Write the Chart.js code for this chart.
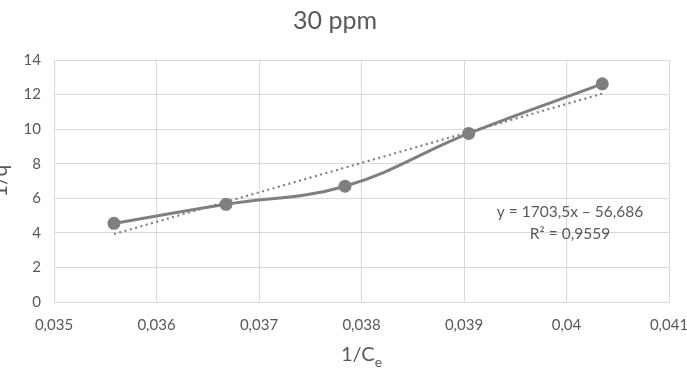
<!DOCTYPE html>
<html><head><meta charset="utf-8">
<script src="https://cdn.jsdelivr.net/npm/chart.js@4"></script>
<style>html,body{margin:0;padding:0;background:#fff}#wrap{width:687px;height:377px}</style>
</head><body><div id="wrap"><canvas id="c" width="687" height="377"></canvas></div>
<script>
const xValues = [0.035585, 0.036678, 0.037839, 0.039046, 0.040349];
const yValues = [4.55, 5.65, 6.70, 9.75, 12.62];
const trendX = [0.035585, 0.040349];
const trendY = [3.93, 12.05];
const chartTitle = "30 ppm";
const yTitle = "1/q";
const equationLines = ["y = 1703,5x \u2013 56,686", "R\u00b2 = 0,9559"];

const FONT = "Lato, 'Liberation Sans', sans-serif";
const TXT = "#595959";
const GRID = "#d9d9d9";
const LINE = "#7f7f7f";

const textPlugin = {
  id: 'texts',
  afterDraw(chart) {
    const ctx = chart.ctx;
    const ca = chart.chartArea;
    ctx.save();
    ctx.fillStyle = TXT;
    ctx.textBaseline = 'middle';
    ctx.font = "25px " + FONT;
    ctx.textAlign = 'center';
    ctx.fillText(chartTitle, 335, 21);
    const main = "1/C";
    ctx.font = "20px " + FONT;
    const w1 = ctx.measureText(main).width;
    ctx.font = "14px " + FONT;
    const w2 = ctx.measureText("e").width;
    const cx = (ca.left + ca.right) / 2;
    const sx = cx - (w1 + w2) / 2;
    ctx.textAlign = 'left';
    ctx.font = "20px " + FONT;
    ctx.fillText(main, sx, 355);
    ctx.font = "14px " + FONT;
    ctx.fillText("e", sx + w1, 362);
    ctx.save();
    ctx.translate(7, 181);
    ctx.rotate(-Math.PI / 2);
    ctx.font = "21px " + FONT;
    ctx.textAlign = 'center';
    ctx.textBaseline = 'alphabetic';
    ctx.fillText(yTitle, 0, 0);
    ctx.restore();
    ctx.font = "15.5px " + FONT;
    ctx.textAlign = 'center';
    ctx.fillText(equationLines[0], 570, 212);
    ctx.fillText(equationLines[1], 570, 234);
    ctx.restore();
  }
};

new Chart(document.getElementById('c'), {
  type: 'scatter',
  data: {
    datasets: [
      {
        data: xValues.map((x, i) => ({x, y: yValues[i]})),
        showLine: true,
        borderColor: LINE,
        backgroundColor: LINE,
        borderWidth: 3,
        pointRadius: 5,
        pointHoverRadius: 5,
        tension: 0.4,
        order: 1
      },
      {
        data: trendX.map((x, i) => ({x, y: trendY[i]})),
        showLine: true,
        borderColor: LINE,
        borderWidth: 2.2,
        borderDash: [2, 3.5],
        borderCapStyle: 'butt',
        pointRadius: 0,
        order: 2
      }
    ]
  },
  options: {
    responsive: false,
    animation: false,
    events: [],
    layout: { padding: { top: 60, right: 18, left: 0, bottom: 0 } },
    plugins: { legend: { display: false }, tooltip: { enabled: false }, title: { display: false } },
    scales: {
      x: {
        type: 'linear',
        min: 0.035, max: 0.041,
        afterFit(s) { s.height = 75; s.paddingLeft = 0; s.paddingRight = 0; },
        afterBuildTicks(s) {
          s.ticks = [];
          for (let i = 0; i <= 6; i++) s.ticks.push({ value: 0.035 + i * 0.001 });
        },
        ticks: {
          color: TXT,
          font: { family: FONT, size: 15 },
          padding: 14,
          maxRotation: 0,
          callback: v => String(Number(v.toFixed(3))).replace('.', ',')
        },
        grid: { color: GRID, lineWidth: 1, drawTicks: false },
        border: { color: GRID, width: 1 }
      },
      y: {
        min: 0, max: 14,
        afterFit(s) { s.width = 54; s.paddingTop = 0; s.paddingBottom = 0; },
        ticks: {
          stepSize: 2,
          color: TXT,
          font: { family: FONT, size: 15 },
          padding: 13
        },
        grid: { color: GRID, lineWidth: 1, drawTicks: false },
        border: { color: GRID, width: 1 }
      }
    }
  },
  plugins: [textPlugin]
});
</script>
</body></html>
